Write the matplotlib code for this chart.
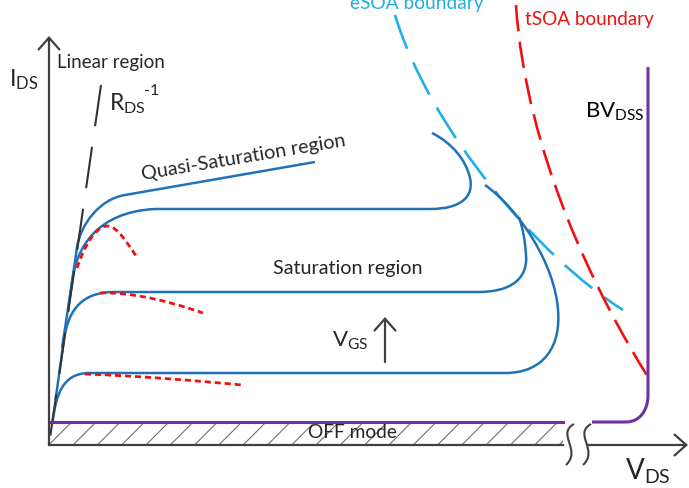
import numpy as np
import matplotlib.pyplot as plt
from matplotlib.path import Path
from matplotlib.patches import PathPatch, Rectangle

plt.rcParams['font.family'] = ['Lato', 'DejaVu Sans']
plt.rcParams['mathtext.fontset'] = 'custom'
plt.rcParams['mathtext.rm'] = 'Lato'
plt.rcParams['mathtext.it'] = 'Lato:italic'
plt.rcParams['mathtext.bf'] = 'Lato:bold'

# ===== schematic data (x = V_DS, y = I_DS, drawing units, y grows downward) =====
origin = (49, 445)
off_level = 422
axis_break = (563, 588)

# linear region, R_DS^-1 slope
linear_line = [(101, 85), (49, 445)]

# output characteristics: M = move, L = line, C = cubic bezier
quasi_sat = [(68, 310), (76.9, 248), (80.4, 224), (100, 199), (125, 195), (315, 162)]
quasi_codes = 'MLCCCL'
curve_vgs3 = [(62, 348), (72.7, 278), (76.7, 250), (95, 212), (155, 209), (430, 209),
              (462, 209), (474, 196), (470, 178), (466, 160), (452, 143), (432, 133)]
curve_vgs3_codes = 'MLCCCLCCCCCC'
curve_vgs2 = [(55.5, 400), (63.9, 340), (67.9, 312), (80, 293), (112, 292), (478, 292),
              (512, 292), (528, 278), (526, 255), (525, 238), (522, 226), (519, 217)]
curve_vgs2_codes = 'MLCCCLCCCCCC'
curve_vgs1 = [(52.5, 422), (56.3, 395), (62, 374), (88, 373), (505, 373),
              (545, 373), (561, 345), (558, 310), (555, 265), (520, 210), (485, 185)]
curve_vgs1_codes = 'MCCCLCCCCCC'

# self-heating (thermal) droop, red dotted
droop3 = [(77, 268), (85, 245), (95, 227), (107, 226), (118, 226), (128, 245), (137, 257)]
droop3_codes = 'MCCCCCC'
droop2 = [(100, 293), (125, 292), (160, 298), (203, 313)]
droop2_codes = 'MCCC'
droop1 = [(85, 374), (140, 376), (200, 381), (242, 385)]
droop1_codes = 'MCCC'

# SOA boundaries
esoa = [(395, 15), (430, 130), (540, 258), (623, 310)]
esoa_codes = 'MCCC'
tsoa = [(516, 5), (526, 155), (598, 297), (648, 377)]
tsoa_codes = 'MCCC'

# OFF mode / breakdown
off_left = [(49, 422), (563, 422)]
off_right = [(592, 422), (626, 422), (640, 422), (648, 410), (648, 395), (648, 67)]
off_right_codes = 'MLCCCL'

blue = '#1f72b8'
cyan = '#22aee6'
red = '#ee1111'
purple = '#7030a0'
gray = '#404040'
txt = '#262626'


def bez(points, codes):
    cmap = {'M': Path.MOVETO, 'L': Path.LINETO, 'C': Path.CURVE4}
    return Path(points, [cmap[c] for c in codes])


def draw(ax, points, codes, **kw):
    ax.add_patch(PathPatch(bez(points, codes), fill=False, **kw))


fig = plt.figure(figsize=(6.89, 4.88), dpi=100)
ax = fig.add_axes([0, 0, 1, 1])
ax.set_xlim(0, 689)
ax.set_ylim(488, 0)
ax.axis('off')

# --- OFF mode hatch band ---
band = Rectangle((origin[0], off_level), axis_break[0] - origin[0], origin[1] - off_level,
                 transform=ax.transData, facecolor='none', edgecolor='none')
ax.add_patch(band)
for x0 in np.arange(73 - 24.3 * 2, axis_break[0] + 30, 24.3):
    ln, = ax.plot([x0, x0 + 23], [origin[1], off_level], color='#707070', lw=0.8)
    ln.set_clip_path(band)

# --- axes ---
arrow = dict(arrowstyle='->,head_length=0.85,head_width=0.75', color=gray, lw=1.6,
             shrinkA=0, shrinkB=0)
ax.annotate('', xy=(origin[0], 36), xytext=origin, arrowprops=arrow)
ax.plot([origin[0], axis_break[0]], [origin[1], origin[1]], color=gray, lw=1.6)
ax.annotate('', xy=(688, origin[1]), xytext=(axis_break[1], origin[1]), arrowprops=arrow)
for dx in (0, 17):
    draw(ax, [(574 + dx, 424), (556 + dx, 434), (582 + dx, 450), (566 + dx, 465)], 'MCCC',
         edgecolor=gray, lw=1.5)

# --- linear region ---
ax.plot(*zip(*linear_line), color='#333333', lw=1.5, dashes=(20, 10))

# --- SOA boundaries ---
draw(ax, esoa, esoa_codes, edgecolor=cyan, lw=1.9, linestyle=(0, (13.6, 5.7)))
draw(ax, tsoa, tsoa_codes, edgecolor=red, lw=1.9, linestyle=(0, (10, 4)))

# --- OFF / breakdown ---
ax.plot(*zip(*off_left), color=purple, lw=2.2)
draw(ax, off_right, off_right_codes, edgecolor=purple, lw=2.2)

# --- output curves ---
for pts, codes in [(quasi_sat, quasi_codes), (curve_vgs3, curve_vgs3_codes),
                   (curve_vgs2, curve_vgs2_codes), (curve_vgs1, curve_vgs1_codes)]:
    draw(ax, pts, codes, edgecolor=blue, lw=1.8)

for pts, codes in [(droop3, droop3_codes), (droop2, droop2_codes), (droop1, droop1_codes)]:
    draw(ax, pts, codes, edgecolor=red, lw=2.0, linestyle=(0, (2.2, 1.4)))

# --- labels ---
ax.text(9, 86, r'$\mathrm{I_{DS}}$', fontsize=17, color=txt, va='baseline')
ax.text(57, 68, 'Linear region', fontsize=13.5, color=txt, va='baseline')
ax.text(109, 110, r'$\mathrm{R_{DS}}$', fontsize=16.5, color=txt, va='baseline')
ax.text(144, 95, '-1', fontsize=11.5, color=txt, va='baseline')
ax.text(143, 180, 'Quasi-Saturation region', fontsize=14.2, color=txt, va='baseline',
        rotation=9.5, rotation_mode='anchor')
ax.text(273, 274, 'Saturation region', fontsize=14.2, color=txt, va='baseline')
ax.text(332, 347, r'$\mathrm{V_{GS}}$', fontsize=16, color=txt, va='baseline')
ax.annotate('', xy=(385, 317), xytext=(385, 362), arrowprops=arrow)
ax.text(585, 118, r'$\mathrm{BV_{DSS}}$', fontsize=16, color='black', va='baseline')
ax.text(308, 438, 'OFF mode', fontsize=13.8, color=txt, va='baseline')
ax.text(625, 480, r'$\mathrm{V_{DS}}$', fontsize=20, color=txt, va='baseline')
ax.text(350, 9, 'eSOA boundary', fontsize=13.8, color=cyan, va='baseline')
ax.text(525, 25, 'tSOA boundary', fontsize=13.6, color=red, va='baseline')

fig.savefig('out.png', dpi=100)
